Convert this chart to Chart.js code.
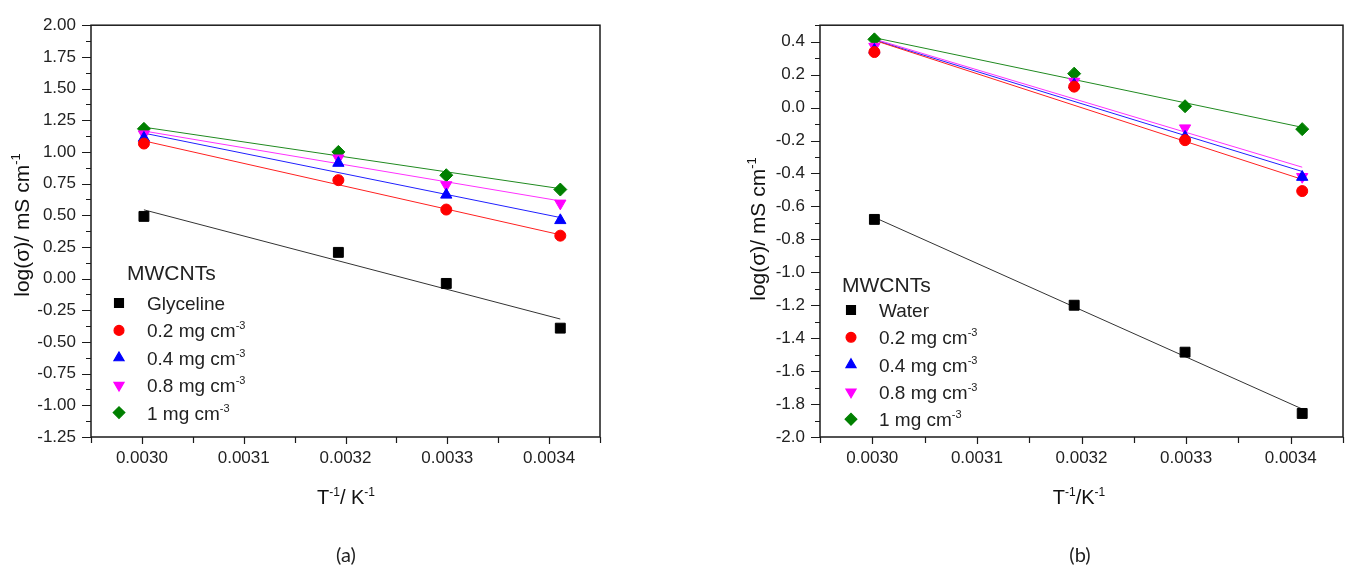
<!DOCTYPE html>
<html>
<head>
<meta charset="utf-8">
<script src="https://cdn.jsdelivr.net/npm/chart.js@4.4.1/dist/chart.umd.min.js"></script>
<style>
  html, body { margin: 0; padding: 0; background: #fff; overflow: hidden; }
  #wrap { position: relative; width: 1351px; height: 571px; }
  canvas { position: absolute; top: 0; }
  #chartA { left: 0; }
  #chartB { left: 700px; }
  .cap { position: absolute; width: 60px; margin-left: -30px; text-align: center;
         font-family: Lato, "Open Sans", sans-serif; font-size: 20px; color: #222; top: 542px; }
</style>
</head>
<body>
<div id="wrap">
  <canvas id="chartA" width="700" height="571"></canvas>
  <canvas id="chartB" width="651" height="571"></canvas>
  <div class="cap" style="left:346px">(a)</div>
  <div class="cap" style="left:1080px">(b)</div>
</div>
<script>
// x values: T^-1 for 333, 313, 303, 293 K
const invT = [0.003002, 0.003193, 0.003299, 0.003411];
const fitX = [0.003002, 0.003411];

const xTicks = [0.0030, 0.0031, 0.0032, 0.0033, 0.0034];
const xTickLabels = ['0.0030', '0.0031', '0.0032', '0.0033', '0.0034'];

const yTicksA = [-1.25, -1.00, -0.75, -0.50, -0.25, 0, 0.25, 0.50, 0.75, 1.00, 1.25, 1.50, 1.75, 2.00];
const yTickLabelsA = ['-1.25', '-1.00', '-0.75', '-0.50', '-0.25', '0.00', '0.25', '0.50', '0.75', '1.00', '1.25', '1.50', '1.75', '2.00'];
const yTicksB = [-2.0, -1.8, -1.6, -1.4, -1.2, -1.0, -0.8, -0.6, -0.4, -0.2, 0, 0.2, 0.4];
const yTickLabelsB = ['-2.0', '-1.8', '-1.6', '-1.4', '-1.2', '-1.0', '-0.8', '-0.6', '-0.4', '-0.2', '0.0', '0.2', '0.4'];

const namesA = ['Glyceline', '0.2 mg cm', '0.4 mg cm', '0.8 mg cm', '1 mg cm'];
const namesB = ['Water', '0.2 mg cm', '0.4 mg cm', '0.8 mg cm', '1 mg cm'];
const nameSups = ['', '-3', '-3', '-3', '-3'];

// (a) glyceline based
const glyceline = [0.491, 0.207, -0.038, -0.391];
const gly02 = [1.066, 0.777, 0.545, 0.339];
const gly04 = [1.110, 0.912, 0.661, 0.460];
const gly08 = [1.140, 0.950, 0.739, 0.594];
const gly1 = [1.182, 1.000, 0.816, 0.703];
// linear fits (a), at fitX
const fitGlyceline = [0.543, -0.319];
const fitGly02 = [1.087, 0.346];
const fitGly04 = [1.148, 0.482];
const fitGly08 = [1.165, 0.613];
const fitGly1 = [1.195, 0.710];

// (b) water based
const water = [-0.679, -1.200, -1.485, -1.857];
const wat02 = [0.337, 0.127, -0.198, -0.507];
const wat04 = [0.350, 0.139, -0.178, -0.422];
const wat08 = [0.370, 0.158, -0.125, -0.420];
const wat1 = [0.414, 0.206, 0.008, -0.131];
// linear fits (b), at fitX
const fitWater = [-0.667, -1.830];
const fitWat02 = [0.408, -0.436];
const fitWat04 = [0.410, -0.388];
const fitWat08 = [0.416, -0.362];
const fitWat1 = [0.424, -0.120];

const colors = ['#000000', '#ff0000', '#0000ff', '#ff00ff', '#008000'];
const fitColors = ['#333333', '#ff2020', '#2020ff', '#ff30ff', '#208a20'];
const shapes = ['rect', 'circle', 'triangle', 'triangle', 'rectRot'];
const rotations = [0, 0, 0, 180, 0];
const radii = [7, 5.5, 6.5, 6.5, 6.5];

const FONT = '"Liberation Sans", Arial, sans-serif';

function drawRich(ctx, parts, x, y, size, align) {
  // parts: [text, isSuperscript]
  const supSize = Math.round(size * 0.6);
  let total = 0;
  const widths = parts.map(([t, sup]) => {
    ctx.font = (sup ? supSize : size) + 'px ' + FONT;
    const w = ctx.measureText(t).width;
    total += w;
    return w;
  });
  let cx = align === 'center' ? x - total / 2 : x;
  ctx.textAlign = 'left';
  ctx.textBaseline = 'alphabetic';
  parts.forEach(([t, sup], i) => {
    ctx.font = (sup ? supSize : size) + 'px ' + FONT;
    ctx.fillText(t, cx, sup ? y - size * 0.42 : y);
    cx += widths[i];
  });
}

function marker(ctx, style, rot, r, x, y, color) {
  ctx.fillStyle = color;
  ctx.strokeStyle = color;
  Chart.helpers.drawPoint(ctx, { pointStyle: style, rotation: rot, radius: r, borderWidth: 1 }, x, y);
}

function minorsBetween(ticks, lo, hi) {
  const out = [];
  const half = (ticks[1] - ticks[0]) / 2;
  for (let v = ticks[0] - half; v >= lo - 1e-12; v -= 2 * half) out.push(v);
  for (let i = 0; i < ticks.length - 1; i++) out.push((ticks[i] + ticks[i + 1]) / 2);
  for (let v = ticks[ticks.length - 1] + half; v <= hi + 1e-12; v += 2 * half) out.push(v);
  return out;
}

const framePlugin = {
  id: 'frame',
  afterDraw(chart, args, o) {
    const { ctx, chartArea: a } = chart;
    const xs = chart.scales.x, ys = chart.scales.y;
    ctx.save();
    ctx.strokeStyle = '#1a1a1a';
    ctx.lineWidth = 1.5;
    ctx.strokeRect(a.left, a.top, a.right - a.left, a.bottom - a.top);
    ctx.lineWidth = 1.2;
    ctx.beginPath();
    o.yTicks.forEach(v => {
      const py = Math.round(ys.getPixelForValue(v)) + 0.5;
      ctx.moveTo(a.left - 9, py); ctx.lineTo(a.left, py);
    });
    minorsBetween(o.yTicks, ys.min, ys.max).forEach(v => {
      const py = Math.round(ys.getPixelForValue(v)) + 0.5;
      ctx.moveTo(a.left - 5, py); ctx.lineTo(a.left, py);
    });
    xTicks.forEach(v => {
      const px = Math.round(xs.getPixelForValue(v)) + 0.5;
      ctx.moveTo(px, a.bottom); ctx.lineTo(px, a.bottom + 7);
    });
    minorsBetween(xTicks, xs.min, xs.max).forEach(v => {
      const px = Math.round(xs.getPixelForValue(v)) + 0.5;
      ctx.moveTo(px, a.bottom); ctx.lineTo(px, a.bottom + 6);
    });
    ctx.stroke();

    // axis titles
    ctx.fillStyle = '#111';
    drawRich(ctx, o.xTitle, o.xTitlePos[0], o.xTitlePos[1], 20, 'center');
    ctx.save();
    ctx.translate(o.yTitlePos[0], o.yTitlePos[1]);
    ctx.rotate(-Math.PI / 2);
    drawRich(ctx, [['log(σ)/ mS cm', false], ['-1', true]], 0, 0, 21, 'center');
    ctx.restore();

    // legend
    const L = o.legend;
    ctx.fillStyle = '#222';
    drawRich(ctx, [['MWCNTs', false]], L.titleX, L.titleY, 21, 'left');
    o.names.forEach((n, i) => {
      const y = L.rowY + i * L.step;
      marker(ctx, shapes[i], rotations[i], radii[i] * 0.9, L.markX, y, colors[i]);
      ctx.fillStyle = '#222';
      drawRich(ctx, [[n, false], [nameSups[i], true]], L.textX, y + 7, 19, 'left');
    });
    ctx.restore();
  }
};

function pts(xv, yv) { return xv.map((x, i) => ({ x: x, y: yv[i] })); }

function makeChart(id, series, fits, yMin, yMax, yTicks, yLabels, yWidth, padRight, frameOpts) {
  const datasets = [];
  series.forEach((s, i) => datasets.push({
    data: pts(invT, s), showLine: false, order: 0,
    pointStyle: shapes[i], rotation: rotations[i], pointRadius: radii[i],
    backgroundColor: colors[i], borderColor: colors[i], borderWidth: 1
  }));
  fits.forEach((f, i) => datasets.push({
    data: pts(fitX, f), showLine: true, order: 1, pointRadius: 0,
    borderColor: fitColors[i], borderWidth: 1
  }));
  return new Chart(document.getElementById(id), {
    type: 'scatter',
    data: { datasets },
    options: {
      responsive: false, animation: false,
      layout: { padding: { top: 17, right: padRight, left: 0, bottom: 0 } },
      plugins: { legend: { display: false }, tooltip: { enabled: false }, frame: frameOpts },
      scales: {
        x: {
          type: 'linear', min: 0.00295, max: 0.00345,
          afterBuildTicks: ax => { ax.ticks = xTicks.map(v => ({ value: v })); },
          afterFit: ax => { ax.height = 571 - 437; },
          ticks: { callback: (v, i) => xTickLabels[i], color: '#222', padding: 11,
                   font: { family: FONT, size: 17 }, maxRotation: 0 },
          grid: { display: false, drawTicks: false }, border: { display: false }
        },
        y: {
          type: 'linear', min: yMin, max: yMax,
          afterBuildTicks: ax => { ax.ticks = yTicks.map(v => ({ value: v })); },
          afterFit: ax => { ax.width = yWidth; },
          ticks: { callback: (v, i) => yLabels[i], color: '#222', padding: 15,
                   font: { family: FONT, size: 17 } },
          grid: { display: false, drawTicks: false }, border: { display: false }
        }
      }
    },
    plugins: [framePlugin]
  });
}

makeChart('chartA',
  [glyceline, gly02, gly04, gly08, gly1],
  [fitGlyceline, fitGly02, fitGly04, fitGly08, fitGly1],
  -1.25, 2.00, yTicksA, yTickLabelsA, 91, 100, {
    yTicks: yTicksA, names: namesA,
    xTitle: [['T', false], ['-1', true], ['/ K', false], ['-1', true]],
    xTitlePos: [346, 504], yTitlePos: [29, 225],
    legend: { titleX: 127, titleY: 280, markX: 119, textX: 147, rowY: 303, step: 27.4 }
  });

makeChart('chartB',
  [water, wat02, wat04, wat08, wat1],
  [fitWater, fitWat02, fitWat04, fitWat08, fitWat1],
  -2.0, 0.5, yTicksB, yTickLabelsB, 120, 4, {
    yTicks: yTicksB, names: namesB,
    xTitle: [['T', false], ['-1', true], ['/K', false], ['-1', true]],
    xTitlePos: [379, 504], yTitlePos: [65, 229],
    legend: { titleX: 142, titleY: 292, markX: 151, textX: 179, rowY: 310, step: 27.3 }
  });
</script>
</body>
</html>
